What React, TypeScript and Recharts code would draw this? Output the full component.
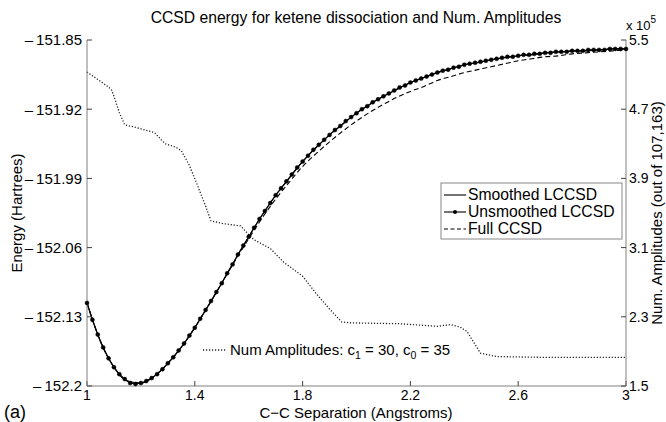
import React from 'react';
import { ComposedChart, Line, XAxis, YAxis } from 'recharts';

const FONT = '"Liberation Sans", Arial, Helvetica, sans-serif';

// C-C separation grid (Angstroms) for the unsmoothed LCCSD run
const sepGrid = [
  1.0, 1.02, 1.04, 1.06, 1.08, 1.1, 1.12, 1.14, 1.16, 1.18,
  1.2, 1.22, 1.24, 1.26, 1.28, 1.3, 1.32, 1.34, 1.36, 1.38,
  1.4, 1.42, 1.44, 1.46, 1.48, 1.5, 1.52, 1.54, 1.56, 1.58,
  1.6, 1.62, 1.64, 1.66, 1.68, 1.7, 1.72, 1.74, 1.76, 1.78,
  1.8, 1.82, 1.84, 1.86, 1.88, 1.9, 1.92, 1.94, 1.96, 1.98,
  2.0, 2.02, 2.04, 2.06, 2.08, 2.1, 2.12, 2.14, 2.16, 2.18,
  2.2, 2.22, 2.24, 2.26, 2.28, 2.3, 2.32, 2.34, 2.36, 2.38,
  2.4, 2.42, 2.44, 2.46, 2.48, 2.5, 2.52, 2.54, 2.56, 2.58,
  2.6, 2.62, 2.64, 2.66, 2.68, 2.7, 2.72, 2.74, 2.76, 2.78,
  2.8, 2.82, 2.84, 2.86, 2.88, 2.9, 2.92, 2.94, 2.96, 2.98,
  3.0,
];

const lccsdUnsmoothed = [
  -152.116, -152.133, -152.148, -152.161, -152.172, -152.181, -152.188, -152.193, -152.197, -152.198,
  -152.197, -152.195, -152.192, -152.188, -152.183, -152.177, -152.171, -152.164, -152.157, -152.149,
  -152.141, -152.132, -152.123, -152.114, -152.105, -152.096, -152.086, -152.077, -152.067, -152.058,
  -152.049, -152.04, -152.031, -152.023, -152.015, -152.007, -152.0, -151.993, -151.986, -151.979,
  -151.973, -151.967, -151.961, -151.956, -151.951, -151.946, -151.941, -151.937, -151.932, -151.928,
  -151.924, -151.92, -151.917, -151.913, -151.91, -151.907, -151.904, -151.901, -151.898, -151.896,
  -151.893, -151.891, -151.889, -151.887, -151.885, -151.883, -151.881, -151.88, -151.878, -151.877,
  -151.875, -151.874, -151.873, -151.872, -151.871, -151.87, -151.869, -151.868, -151.867, -151.867,
  -151.866, -151.865, -151.865, -151.864, -151.864, -151.863, -151.863, -151.862, -151.862, -151.862,
  -151.861, -151.861, -151.861, -151.86, -151.86, -151.86, -151.86, -151.859, -151.859, -151.859,
  -151.859,
];

// coarser grid for the smoothed LCCSD and full CCSD curves
const coarseGrid = [
  1.0, 1.05, 1.1, 1.15, 1.2, 1.25, 1.3, 1.35, 1.4, 1.45,
  1.5, 1.55, 1.6, 1.65, 1.7, 1.75, 1.8, 1.85, 1.9, 1.95,
  2.0, 2.05, 2.1, 2.15, 2.2, 2.25, 2.3, 2.35, 2.4, 2.45,
  2.5, 2.55, 2.6, 2.65, 2.7, 2.75, 2.8, 2.85, 2.9, 2.95,
  3.0,
];

const lccsdSmoothed = [
  -152.116, -152.155, -152.181, -152.195, -152.197, -152.19, -152.177, -152.161, -152.141, -152.119,
  -152.096, -152.072, -152.049, -152.027, -152.007, -151.99, -151.973, -151.959, -151.946, -151.935,
  -151.924, -151.915, -151.907, -151.9, -151.893, -151.888, -151.883, -151.879, -151.875, -151.873,
  -151.87, -151.868, -151.866, -151.865, -151.863, -151.862, -151.861, -151.861, -151.86, -151.859,
  -151.859,
];

const ccsdFull = [
  -152.116, -152.155, -152.181, -152.195, -152.197, -152.19, -152.177, -152.161, -152.141, -152.119,
  -152.096, -152.073, -152.051, -152.03, -152.011, -151.994, -151.978, -151.965, -151.953, -151.942,
  -151.932, -151.923, -151.915, -151.908, -151.902, -151.897, -151.891, -151.887, -151.883, -151.88,
  -151.877, -151.874, -151.871, -151.869, -151.867, -151.866, -151.864, -151.863, -151.862, -151.861,
  -151.86,
];

// number of amplitudes kept (c1 = 30, c0 = 35)
const ampSep = [
  1.0, 1.06, 1.09, 1.1, 1.12, 1.14, 1.18, 1.25, 1.29, 1.33,
  1.35, 1.38, 1.41, 1.44, 1.46, 1.5, 1.57, 1.6, 1.62, 1.68,
  1.73, 1.8, 1.85, 1.9, 1.945, 1.98, 2.16, 2.3, 2.35, 2.385,
  2.41, 2.43, 2.46, 2.52, 2.72, 3.0,
];
const ampCount = [
  513000, 500000, 493000, 485000, 466000, 452000, 449000, 443000, 430000, 426000,
  422000, 405000, 382000, 358000, 341000, 338000, 335000, 325000, 319000, 309000,
  293000, 277000, 257000, 239000, 224000, 223000, 222000, 219000, 221000, 218000,
  213000, 203000, 188000, 184000, 183000, 183000,
];

const xTicks = [1, 1.4, 1.8, 2.2, 2.6, 3];
const energyTicks = [-152.2, -152.13, -152.06, -151.99, -151.92, -151.85];
const ampTicks = [150000, 230000, 310000, 390000, 470000, 550000];

const unsmoothedData = sepGrid.map((x, i) => ({ x, e: lccsdUnsmoothed[i] }));
const smoothedData = coarseGrid.map((x, i) => ({ x, e: lccsdSmoothed[i] }));
const fullData = coarseGrid.map((x, i) => ({ x, e: ccsdFull[i] }));
const ampData = ampSep.map((x, i) => ({ x, n: ampCount[i] }));

const tickStyle = { fill: '#000', fontSize: 14, fontFamily: FONT };
const leftTickStyle = { fill: '#000', fontSize: 15, fontFamily: FONT };
const axisLine = { stroke: '#808080', strokeWidth: 1 };
const tickLine = { stroke: '#404040', strokeWidth: 1 };

export default function App() {
  return (
    <div style={{ position: 'absolute', left: 0, top: 0, width: 666, height: 422, background: '#fff' }}>
      <ComposedChart width={666} height={422} margin={{ top: 40, right: 0, bottom: 0, left: 0 }}>
        <XAxis
          xAxisId="b"
          dataKey="x"
          type="number"
          domain={[1, 3]}
          ticks={xTicks}
          interval={0}
          height={36}
          tickSize={-5}
          tickMargin={9}
          axisLine={axisLine}
          tickLine={tickLine}
          tick={tickStyle}
          tickFormatter={(v: number) => String(v)}
        />
        <XAxis
          xAxisId="t"
          orientation="top"
          dataKey="x"
          type="number"
          domain={[1, 3]}
          ticks={xTicks}
          interval={0}
          height={0}
          tickSize={-5}
          axisLine={false}
          tickLine={tickLine}
          tick={false}
        />
        <YAxis
          yAxisId="e"
          type="number"
          domain={[-152.2, -151.85]}
          ticks={energyTicks}
          interval={0}
          width={87}
          tickSize={-5}
          tickMargin={10}
          axisLine={axisLine}
          tickLine={tickLine}
          tick={leftTickStyle}
          tickFormatter={(v: number) => String(v).replace('-', '\u2013\u2009')}
        />
        <YAxis
          yAxisId="a"
          orientation="right"
          type="number"
          domain={[150000, 550000]}
          ticks={ampTicks}
          interval={0}
          width={40}
          tickSize={-5}
          tickMargin={8}
          axisLine={axisLine}
          tickLine={tickLine}
          tick={tickStyle}
          tickFormatter={(v: number) => (v / 100000).toFixed(1)}
        />
        <Line
          xAxisId="b"
          yAxisId="a"
          data={ampData}
          dataKey="n"
          type="linear"
          stroke="#222"
          strokeWidth={1.3}
          strokeDasharray="1.2 1.8"
          dot={false}
          isAnimationActive={false}
        />
        <Line
          xAxisId="b"
          yAxisId="e"
          data={fullData}
          dataKey="e"
          type="monotone"
          stroke="#000"
          strokeWidth={1.1}
          strokeDasharray="5 3"
          dot={false}
          isAnimationActive={false}
        />
        <Line
          xAxisId="b"
          yAxisId="e"
          data={smoothedData}
          dataKey="e"
          type="monotone"
          stroke="#000"
          strokeWidth={1.1}
          dot={false}
          isAnimationActive={false}
        />
        <Line
          xAxisId="b"
          yAxisId="e"
          data={unsmoothedData}
          dataKey="e"
          type="linear"
          stroke="#000"
          strokeWidth={1.1}
          dot={{ r: 2, fill: '#000', stroke: '#000', strokeWidth: 0.5 }}
          isAnimationActive={false}
        />
      </ComposedChart>
      <svg
        width={666}
        height={422}
        style={{ position: 'absolute', left: 0, top: 0, pointerEvents: 'none' }}
        fontFamily={FONT}
      >
        <text x={356} y={23} fontSize={15.7} textAnchor="middle" fill="#000">
          CCSD energy for ketene dissociation and Num. Amplitudes
        </text>
        <text x={626} y={30} fontSize={13} fill="#000">
          x 10<tspan fontSize={10} dy={-7}>5</tspan>
        </text>
        <text x={4} y={418} fontSize={18} fill="#000">(a)</text>
        <text x={356} y={418} fontSize={15} textAnchor="middle" fill="#000">
          C{'\u2212'}C Separation (Angstroms)
        </text>
        <text x={0} y={0} fontSize={15} textAnchor="middle" fill="#000" transform="translate(22,213) rotate(-90)">
          Energy (Hartrees)
        </text>
        <text x={0} y={0} fontSize={15} textAnchor="middle" fill="#000" transform="translate(662,213) rotate(-90)">
          Num. Amplitudes (out of 107,163)
        </text>

        <rect x={441} y={183} width={181} height={56} fill="#fff" stroke="#888" strokeWidth={1} />
        <line x1={444} y1={195} x2={466} y2={195} stroke="#000" strokeWidth={1.1} />
        <text x={468} y={200} fontSize={15.7} fill="#000">Smoothed LCCSD</text>
        <line x1={444} y1={212} x2={466} y2={212} stroke="#000" strokeWidth={1.1} />
        <circle cx={455} cy={212} r={2} fill="#000" />
        <text x={468} y={217} fontSize={15.7} fill="#000">Unsmoothed LCCSD</text>
        <line x1={444} y1={229} x2={466} y2={229} stroke="#000" strokeWidth={1.1} strokeDasharray="4 2.5" />
        <text x={468} y={234} fontSize={15.7} fill="#000">Full CCSD</text>

        <line x1={203} y1={350} x2={226} y2={350} stroke="#222" strokeWidth={1.3} strokeDasharray="1.2 1.8" />
        <text x={230} y={355} fontSize={15} fill="#000">
          Num Amplitudes: c<tspan fontSize={10.5} dy={4}>1</tspan>
          <tspan dy={-4}> = 30, c</tspan>
          <tspan fontSize={10.5} dy={4}>0</tspan>
          <tspan dy={-4}> = 35</tspan>
        </text>
      </svg>
    </div>
  );
}
